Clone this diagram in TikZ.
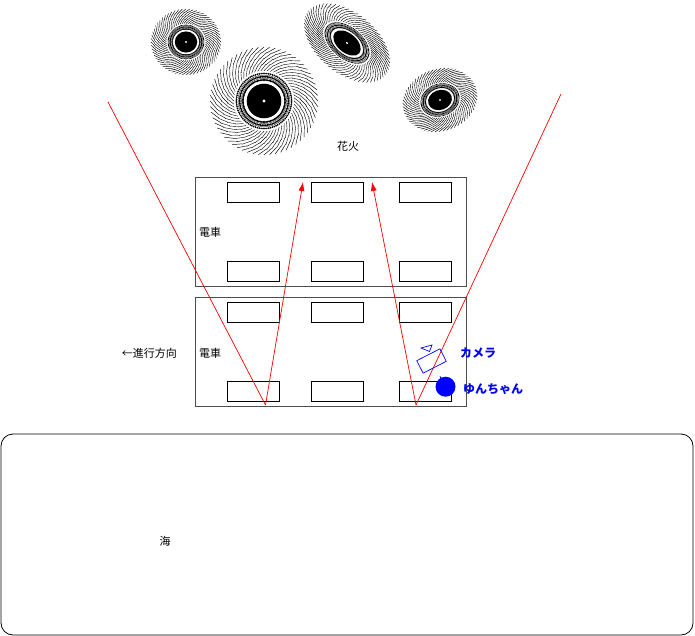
\documentclass[tikz,border=0pt]{standalone}
\usepackage{fontspec}
\setmainfont{Noto Sans CJK JP}
\usetikzlibrary{arrows.meta}

\tikzset{
  firework/.pic={
    \foreach \a in {0,6,...,354} {
      \draw[line width=0.4pt] (\a:0.56) -- (\a+9:0.68);
      \draw[line width=0.4pt] (\a+3:0.67) -- (\a+12:0.79);
      \draw[line width=0.4pt] (\a:0.78) -- (\a+9:0.9);
      \draw[line width=0.45pt] (\a+3:0.89) -- (\a+12:1);
    }
    \foreach \a in {0,4,...,356} {
      \fill (\a:0.39) circle (0.02);
      \fill (\a+2:0.45) circle (0.02);
      \fill (\a:0.51) circle (0.018);
    }
    \draw[line width=0.3pt] (0,0) circle (0.42);
    \draw[line width=0.3pt] (0,0) circle (0.48);
    \fill (0,0) circle (0.32);
    \fill[white] (0,0) circle (0.03);
  },
  train/.style={draw=black!70, line width=0.9pt, minimum width=271pt, minimum height=109pt, inner sep=0pt},
  seat/.style={draw, line width=0.7pt, minimum width=52pt, minimum height=20pt, inner sep=0pt},
  ray/.style={red, line width=0.7pt},
  label/.style={font=\fontsize{11}{13}\selectfont, inner sep=0pt},
  who/.style={blue, font=\fontsize{12}{14}\selectfont\bfseries, inner sep=0pt, anchor=west}
}

\begin{document}
\begin{tikzpicture}[x=1pt, y=-1pt]
  \useasboundingbox (0,0) rectangle (695,636);

  % fireworks
  \pic[xscale=35, yscale=33] at (186,42) {firework};
  \pic[scale=54] at (264,101) {firework};
  \pic[rotate=-40, xscale=50, yscale=30] at (347,43) {firework};
  \pic[rotate=20, xscale=38, yscale=31] at (440,100) {firework};
  \node[label] (hanabi) at (348,146) {花火};

  % trains
  \node[train] (train1) at (330.5,231.5) {};
  \node[train] (train2) at (330.5,351.5) {};
  \foreach \x [count=\i] in {253,337,425} {
    \node[seat] (s1t\i) at (\x,192) {};
    \node[seat] (s1b\i) at (\x,271) {};
    \node[seat] (s2t\i) at (\x,312) {};
    \node[seat] (s2b\i) at (\x,391) {};
  }
  \node[label, anchor=west] (car1) at (199,232) {電車};
  \node[label, anchor=west] (car2) at (199,353) {電車};
  \node[label, anchor=east] (dir) at (177,353) {←進行方向};

  % sea
  \draw[line width=0.8pt, rounded corners=12pt] (1,434) rectangle (693,635);
  \node[label] (umi) at (165,541) {海};

  % reflections
  \coordinate (in1) at (108,102);
  \coordinate (hit1) at (265.5,405);
  \coordinate (win1) at (303,182);
  \coordinate (in2) at (561,94);
  \coordinate (hit2) at (416,405);
  \coordinate (win2) at (372,182);
  \draw[ray] (in1) -- (hit1);
  \draw[ray, -{Latex[length=9pt,width=6pt]}] (hit1) -- (win1);
  \draw[ray] (in2) -- (hit2);
  \draw[ray, -{Latex[length=9pt,width=6pt]}] (hit2) -- (win2);

  % camera and person
  \begin{scope}[shift={(431.5,361)}, rotate=27, blue, line width=0.7pt]
    \draw (-13,-7) rectangle (13,7);
  \end{scope}
  \draw[blue, line width=0.7pt] (421,348) -- (432,345) -- (429.5,351.5) -- cycle;
  \draw[blue, line width=0.7pt] (440,376) -- (441,379);
  \fill[blue] (445.5,386.7) circle (10);
  \node[who] (camera) at (460,353) {カメラ};
  \node[who] (yun) at (463,389) {ゆんちゃん};
\end{tikzpicture}
\end{document}
